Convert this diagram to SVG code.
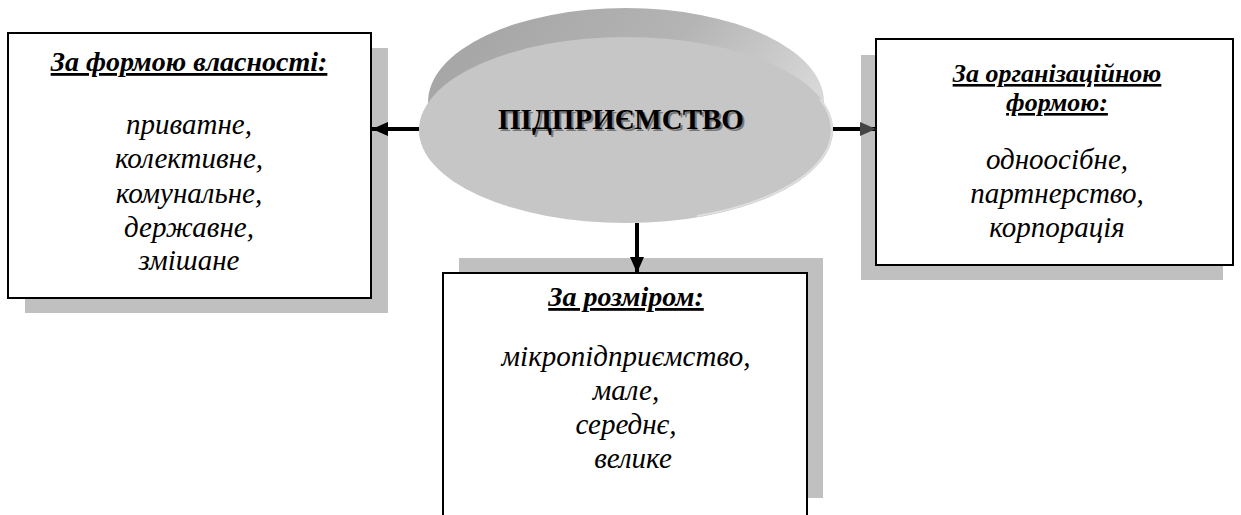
<svg xmlns="http://www.w3.org/2000/svg" width="1241" height="515" viewBox="0 0 1241 515">
<style>
.shadow{fill:#c0c0c0}
.box{fill:#fff;stroke:#000;stroke-width:2}
.title{font-weight:bold;font-style:italic;font-size:28px;text-decoration:underline;text-anchor:middle;fill:#000}
.title2{font-size:26px}
.body{font-style:italic;font-size:29px;text-anchor:middle;fill:#000}
.conn{stroke:#000;stroke-width:4;fill:none}
.head{font-weight:bold;font-size:29px;text-anchor:middle}
</style>
<defs>
<linearGradient id="rim" x1="0" y1="0" x2="1" y2="0.4">
<stop offset="0" stop-color="#a2a2a2"/>
<stop offset="0.6" stop-color="#b4b4b4"/>
<stop offset="1" stop-color="#d8d8d8"/>
</linearGradient>
<marker id="ah" viewBox="0 0 16 14" refX="16" refY="7" markerWidth="16" markerHeight="14" markerUnits="userSpaceOnUse" orient="auto">
<path d="M0,0 L16,7 L0,14 Z" fill="#000"/>
</marker>
<marker id="ahg" viewBox="0 0 16 14" refX="16" refY="7" markerWidth="16" markerHeight="14" markerUnits="userSpaceOnUse" orient="auto">
<path d="M0,0 L16,7 L0,14 Z" fill="#444"/>
</marker>
</defs>

<g font-family="Liberation Serif, Times New Roman, Times, DejaVu Serif, serif">
<g id="node-ownership">
<rect class="shadow" x="25" y="48" width="363" height="265"/>
<rect class="box" x="8" y="33" width="363" height="265"/>
<text class="title" x="189" y="71">За формою власності:</text>
<text class="body" x="189" y="134">приватне,</text>
<text class="body" x="189" y="168">колективне,</text>
<text class="body" x="189" y="203">комунальне,</text>
<text class="body" x="189" y="237">державне,</text>
<text class="body" x="189" y="270">змішане</text>
</g>

<g id="node-organizational">
<rect class="shadow" x="861" y="55" width="362" height="225"/>
<rect class="box" x="876" y="39" width="357" height="226"/>
<text class="title title2" x="1057" y="82">За організаційною</text>
<text class="title title2" x="1057" y="111">формою:</text>
<text class="body" x="1057" y="169">одноосібне,</text>
<text class="body" x="1057" y="203">партнерство,</text>
<text class="body" x="1057" y="237">корпорація</text>
</g>

<g id="node-size">
<rect class="shadow" x="459" y="258" width="364" height="240"/>
<rect class="box" x="443" y="273" width="364" height="250"/>
<text class="title" x="626" y="306">За розміром:</text>
<text class="body" x="626" y="366">мікропідприємство,</text>
<text class="body" x="626" y="400">мале,</text>
<text class="body" x="626" y="434">середнє,</text>
<text class="body" x="633" y="468">велике</text>
</g>

<g id="node-center">
<ellipse cx="626" cy="102" rx="198" ry="94" fill="url(#rim)"/>
<ellipse cx="626" cy="130" rx="207" ry="93" fill="#c6c6c6"/>
<path d="M 820,99 A 206 92 0 0 1 697,216" fill="none" stroke="#dedede" stroke-width="2"/>
<text class="head" x="623" y="131" fill="#777">ПІДПРИЄМСТВО</text>
<text class="head" x="621" y="129" fill="#000">ПІДПРИЄМСТВО</text>
</g>
</g>

<g id="connectors">
<line class="conn" x1="419" y1="129" x2="372" y2="129" marker-end="url(#ah)"/>
<line class="conn" x1="833" y1="129" x2="876" y2="129" marker-end="url(#ahg)"/>
<line class="conn" x1="637" y1="223" x2="637" y2="273" marker-end="url(#ah)"/>
</g>
</svg>
